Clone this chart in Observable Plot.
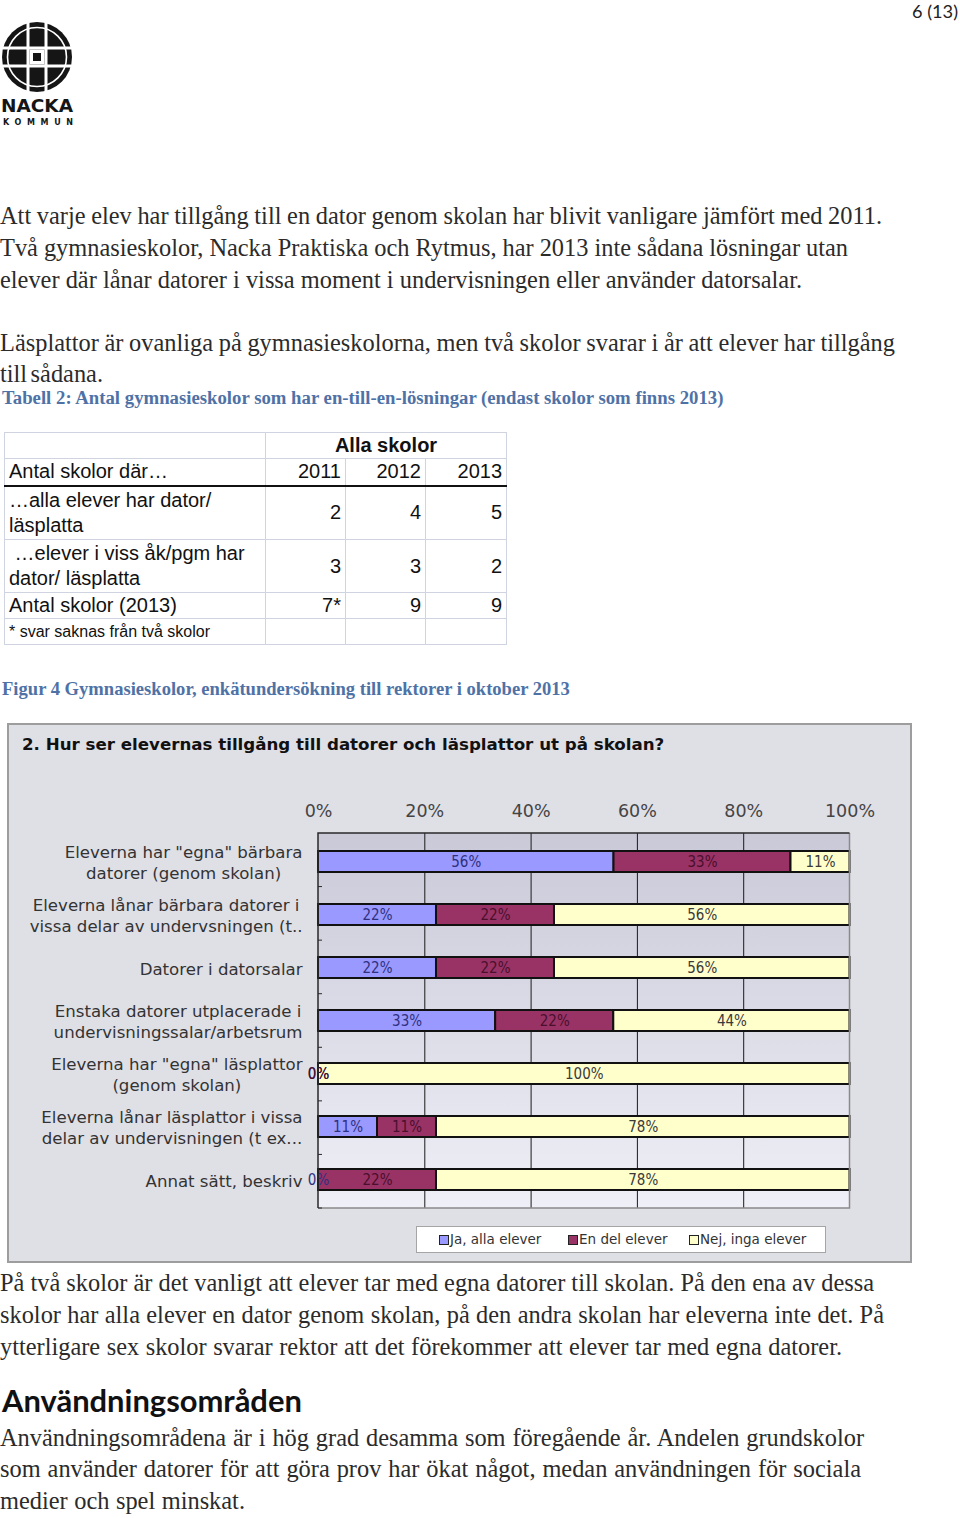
<!DOCTYPE html>
<html><head><meta charset="utf-8">
<script src="https://cdn.jsdelivr.net/npm/d3@7"></script>
<script src="https://cdn.jsdelivr.net/npm/@observablehq/plot@0.6"></script>
<style>
html,body{margin:0;padding:0;background:#fff;}
#page{position:relative;width:960px;height:1518px;overflow:hidden;background:#fff;}
.ln{position:absolute;left:0;white-space:nowrap;font-family:"Liberation Serif","Times New Roman",serif;font-size:22px;line-height:30px;color:#2b2b2b;}
.cap{font-weight:bold;color:#4f72a6;font-size:16.5px;left:2px;}
#pnum{position:absolute;right:2px;top:0;line-height:22px;font-family:Lato,"DejaVu Sans",sans-serif;font-size:18px;color:#222;white-space:nowrap;}
#tbl{position:absolute;left:4px;top:432px;}
#tbl table{border-collapse:collapse;table-layout:fixed;width:502px;font-family:"Liberation Sans",Arial,sans-serif;font-size:20px;color:#111;}
#tbl td{border:1px solid #cfd4e0;padding:0 4px;line-height:25px;vertical-align:middle;white-space:nowrap;}
#tbl td.n{text-align:right;}
#box{position:absolute;left:7px;top:723px;width:905px;height:540px;box-sizing:border-box;border:2px solid #9d9d9d;background:#dfdfe6;}
#ctitle{position:absolute;left:22px;top:735px;line-height:20px;font-family:"DejaVu Sans",Verdana,sans-serif;font-weight:bold;font-size:14px;color:#111;white-space:nowrap;}
#chart{position:absolute;left:0;top:770px;}
#legend{position:absolute;left:416px;top:1226px;width:410px;height:27px;box-sizing:border-box;background:#fff;border:1px solid #a5a5a5;}
.li{position:absolute;top:0;line-height:25px;font-family:"DejaVu Sans",Verdana,sans-serif;font-size:13.5px;color:#333;white-space:nowrap;}
.sw{position:absolute;top:8px;width:8px;height:8px;border:1px solid #222;}
#head{position:absolute;left:2px;top:1383px;line-height:34px;font-family:Lato,"DejaVu Sans",sans-serif;font-weight:bold;font-size:28px;color:#111;white-space:nowrap;}
</style></head><body>
<div id="page">
  <div id="pnum" data-fit="46">6 (13)</div>
  <svg style="position:absolute;left:0;top:20px" width="78" height="108">
    <circle cx="37" cy="37" r="35" fill="#151515"/>
    <circle cx="37" cy="37" r="29.5" fill="none" stroke="#fff" stroke-width="1.6"/>
    <rect x="26.5" y="3" width="3" height="68" fill="#fff"/>
    <rect x="44.5" y="3" width="3" height="68" fill="#fff"/>
    <rect x="3" y="26.5" width="68" height="3" fill="#fff"/>
    <rect x="3" y="44.5" width="68" height="3" fill="#fff"/>
    <rect x="29.5" y="29.5" width="15" height="15" fill="#fff"/>
    <rect x="33" y="33" width="8" height="8" fill="#151515"/>
    <text x="37" y="92" text-anchor="middle" font-family="'DejaVu Sans Condensed','DejaVu Sans',sans-serif" font-weight="bold" font-size="18" textLength="72" lengthAdjust="spacingAndGlyphs" fill="#151515">NACKA</text>
    <text x="38" y="105" text-anchor="middle" font-family="'DejaVu Sans',sans-serif" font-weight="bold" font-size="8" textLength="70" lengthAdjust="spacing" fill="#151515">KOMMUN</text>
  </svg>

  <div class="ln body" style="top:201px" data-w="882">Att varje elev har tillgång till en dator genom skolan har blivit vanligare jämfört med 2011.</div>
  <div class="ln body" style="top:233px" data-w="848">Två gymnasieskolor, Nacka Praktiska och Rytmus, har 2013 inte sådana lösningar utan</div>
  <div class="ln body" style="top:265px" data-w="802">elever där lånar datorer i vissa moment i undervisningen eller använder datorsalar.</div>
  <div class="ln body" style="top:328px" data-w="895">Läsplattor är ovanliga på gymnasieskolorna, men två skolor svarar i år att elever har tillgång</div>
  <div class="ln body" style="top:359px" data-w="103">till sådana.</div>
  <div class="ln cap" style="top:383px" data-fit="722">Tabell 2: Antal gymnasieskolor som har en-till-en-lösningar (endast skolor som finns 2013)</div>

  <div id="tbl"></div>

  <div class="ln cap" style="top:674px" data-fit="568">Figur 4 Gymnasieskolor, enkätundersökning till rektorer i oktober 2013</div>

  <div id="box"></div>
  <div id="ctitle" data-fit="643">2. Hur ser elevernas tillgång till datorer och läsplattor ut på skolan?</div>
  <div id="chart"></div>
  <div id="legend"></div>

  <div class="ln body" style="top:1268px" data-w="874">På två skolor är det vanligt att elever tar med egna datorer till skolan. På den ena av dessa</div>
  <div class="ln body" style="top:1300px" data-w="884">skolor har alla elever en dator genom skolan, på den andra skolan har eleverna inte det. På</div>
  <div class="ln body" style="top:1332px" data-w="842">ytterligare sex skolor svarar rektor att det förekommer att elever tar med egna datorer.</div>
  <div id="head" data-fit="300">Användningsområden</div>
  <div class="ln body" style="top:1423px" data-w="864">Användningsområdena är i hög grad desamma som föregående år. Andelen grundskolor</div>
  <div class="ln body" style="top:1454px" data-w="861">som använder datorer för att göra prov har ökat något, medan användningen för sociala</div>
  <div class="ln body" style="top:1486px" data-w="245">medier och spel minskat.</div>
</div>
<script>
// ---------- Table data ----------
const tableGroup = "Alla skolor";
const tableHeadLabel = "Antal skolor där…";
const tableYears = ["2011", "2012", "2013"];
const tableRowLabels = ["…alla elever har dator/<br>läsplatta", "&nbsp;…elever i viss åk/pgm har<br>dator/ läsplatta", "Antal skolor (2013)"];
const tableValues = [["2", "4", "5"], ["3", "3", "2"], ["7*", "9", "9"]];
const tableNote = "* svar saknas från två skolor";

// ---------- Chart data ----------
const categories = [
  'Eleverna har "egna" bärbara\ndatorer (genom skolan)',
  'Eleverna lånar bärbara datorer i\nvissa delar av undervsningen (t..',
  'Datorer i datorsalar',
  'Enstaka datorer utplacerade i\nundervisningssalar/arbetsrum',
  'Eleverna har "egna" läsplattor\n(genom skolan)',
  'Eleverna lånar läsplattor i vissa\ndelar av undervisningen (t ex...',
  'Annat sätt, beskriv'
];
const seriesNames = ["Ja, alla elever", "En del elever", "Nej, inga elever"];
const jaAlla  = [55.6, 22.2, 22.2, 33.3, 0, 11.1, 0];
const enDel   = [33.3, 22.2, 22.2, 22.2, 0, 11.1, 22.2];
const nejInga = [11.1, 55.6, 55.6, 44.4, 100, 77.8, 77.8];
const xTicks = [0, 0.2, 0.4, 0.6, 0.8, 1];
const seriesColors = ["#9999ff", "#993366", "#ffffcc"];
const labelColors = ["#30307e", "#4a0f2c", "#3a3a3a"];

// ---------- Table ----------
(function buildTable() {
  let h = '<table><colgroup><col style="width:261px"><col style="width:80px"><col style="width:80px"><col style="width:81px"></colgroup>';
  h += `<tr style="height:26px"><td></td><td colspan="3" style="text-align:center;font-weight:bold">${tableGroup}</td></tr>`;
  h += `<tr style="height:27px;border-bottom:2px solid #111"><td>${tableHeadLabel}</td>${tableYears.map(y => `<td class="n">${y}</td>`).join("")}</tr>`;
  const hs = [54, 53, 26];
  tableRowLabels.forEach((l, i) => {
    h += `<tr style="height:${hs[i]}px"><td>${l}</td>${tableValues[i].map(v => `<td class="n">${v}</td>`).join("")}</tr>`;
  });
  h += `<tr style="height:26px"><td style="font-size:16px">${tableNote}</td><td></td><td></td><td></td></tr>`;
  h += '</table>';
  document.getElementById("tbl").innerHTML = h;
})();

// ---------- Text fitting ----------
(function fit() {
  const els = [...document.querySelectorAll(".body")];
  const ratios = els.map(e => +e.dataset.w / e.getBoundingClientRect().width).sort((a, b) => a - b);
  const r = ratios[Math.floor(ratios.length / 2)];
  els.forEach(e => e.style.fontSize = (22 * r) + "px");
  els.forEach(e => {
    const w = e.getBoundingClientRect().width;
    const n = (e.textContent.match(/ /g) || []).length;
    if (n) e.style.wordSpacing = ((+e.dataset.w - w) / n) + "px";
  });
  document.querySelectorAll("[data-fit]").forEach(e => {
    const fs = parseFloat(getComputedStyle(e).fontSize);
    e.style.fontSize = fs * (+e.dataset.fit / e.getBoundingClientRect().width) + "px";
  });
})();

// ---------- Chart ----------
const seriesValues = [jaAlla, enDel, nejInga];
const data = [];
seriesNames.forEach((s, si) => categories.forEach((c, ci) => data.push({category: c, series: s, value: seriesValues[si][ci]})));
const fmt = v => Math.round(v) + "%";

const bgMark = (index, scales, values, dims) => {
  const {width, height, marginTop, marginRight, marginBottom, marginLeft} = dims;
  const g = d3.create("svg:g");
  const grad = g.append("defs").append("linearGradient").attr("id", "plotbg")
    .attr("x1", "0").attr("y1", "0").attr("x2", "0").attr("y2", "1");
  grad.append("stop").attr("offset", "0").attr("stop-color", "#c9c9d8");
  grad.append("stop").attr("offset", "1").attr("stop-color", "#efeff7");
  g.append("rect").attr("x", marginLeft).attr("y", marginTop)
    .attr("width", width - marginLeft - marginRight).attr("height", height - marginTop - marginBottom)
    .attr("fill", "url(#plotbg)");
  return g.node();
};
const borderMark = (index, scales, values, dims) => {
  const {width, height, marginTop, marginRight, marginBottom, marginLeft} = dims;
  const x0 = marginLeft, x1 = width - marginRight, y0 = marginTop, y1 = height - marginBottom;
  const g = d3.create("svg:g").attr("fill", "none");
  g.append("path").attr("d", `M${x1},${y0}V${y1}H${x0}`).attr("stroke", "#8a8a8a").attr("stroke-width", 1.5);
  g.append("path").attr("d", `M${x0},${y1}V${y0}H${x1}`).attr("stroke", "#2a2a2a").attr("stroke-width", 1.5);
  const step = (y1 - y0) / categories.length;
  for (let i = 1; i <= categories.length; i++) {
    g.append("line").attr("x1", x0).attr("x2", x0 + 4).attr("y1", y0 + i * step).attr("y2", y0 + i * step).attr("stroke", "#2a2a2a");
  }
  return g.node();
};

const labelSize = 16.6;
const ctx = document.createElement("canvas").getContext("2d");
ctx.font = labelSize + "px 'DejaVu Sans'";
const labelMarks = categories.map(c => {
  const w = Math.max(...c.split("\n").map(l => ctx.measureText(l).width));
  return Plot.text([c], {y: d => d, frameAnchor: "left", textAnchor: "middle", dx: -16 - w / 2,
    lineHeight: 1.27, fontSize: labelSize, fill: "#333"});
});

const chart = Plot.plot({
  width: 960, height: 445,
  marginLeft: 318, marginRight: 110.5, marginTop: 63, marginBottom: 7,
  style: {background: "transparent", fontFamily: "'DejaVu Sans', Verdana, sans-serif", fontSize: "15px", color: "#333", overflow: "visible"},
  x: {domain: [0, 1]},
  y: {domain: categories, paddingInner: 0.61, paddingOuter: 0.305, axis: null},
  color: {domain: seriesNames, range: seriesColors},
  marks: [
    bgMark,
    Plot.ruleX(xTicks.slice(1, -1), {stroke: "#1a1a1a", strokeWidth: 1}),
    Plot.barX(data, Plot.stackX({offset: "normalize", x: "value", y: "category", z: "series", fill: "series", stroke: "#111", strokeWidth: 2})),
    ...seriesNames.map((s, i) => Plot.text(data, Plot.stackX({offset: "normalize", x: "value", y: "category", z: "series",
      text: d => d.series === s ? fmt(d.value) : null, fill: labelColors[i],
      fontFamily: "'Liberation Sans Narrow', 'Arial Narrow', 'DejaVu Sans Condensed', sans-serif", fontSize: 15}))),
    borderMark,
    Plot.axisX({anchor: "top", ticks: xTicks, tickFormat: d => Math.round(d * 100) + "%", tickSize: 0, tickPadding: 17,
      fontSize: 17.5, fill: "#444", label: null}),
    ...labelMarks
  ]
});
document.getElementById("chart").appendChild(chart);

// ---------- Legend ----------
const legendX = [24, 153, 274];
document.getElementById("legend").innerHTML = seriesNames.map((s, i) =>
  `<div class="sw" style="left:${legendX[i] - 2}px;background:${seriesColors[i]}"></div><div class="li" style="left:${legendX[i] + 9}px">${s}</div>`).join("");
</script>
</body></html>
